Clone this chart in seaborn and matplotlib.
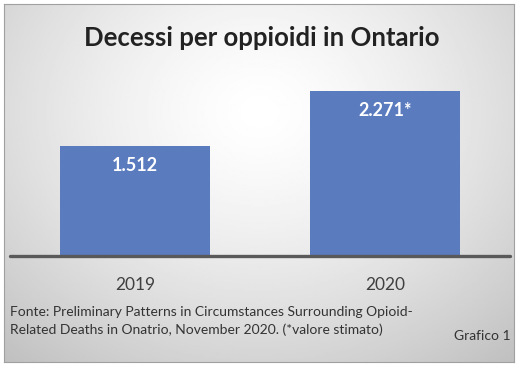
import numpy as np
import pandas as pd
import seaborn as sns
import matplotlib.pyplot as plt

anni = ["2019", "2020"]
decessi = [1512, 2271]
etichette = ["1.512", "2.271*"]

sns.set_style("white")
plt.rcParams['font.family'] = ['Lato', 'DejaVu Sans']

fig = plt.figure(figsize=(5.24, 3.74), dpi=100)

# sfondo con sfumatura radiale
bg = fig.add_axes([4/524, 12/374, 510/524, 358/374], zorder=0)
yy, xx = np.mgrid[0:1:200j, 0:1:300j]
d = np.sqrt(((xx - 0.5) / 0.75) ** 2 + ((yy - 0.3) / 0.9) ** 2)
shade = 1 - 0.24 * np.clip(d, 0, 1.2) ** 1.4
bg.imshow(shade, cmap="gray", vmin=0, vmax=1, aspect="auto",
          extent=[0, 1, 1, 0], interpolation="bilinear")
bg.set_xticks([]); bg.set_yticks([])
for s in bg.spines.values():
    s.set_color("#a0a0a0")
    s.set_linewidth(0.8)

ax = fig.add_axes([10/524, 118/374, 500/524, 196/374], zorder=1)
ax.patch.set_alpha(0)
df = pd.DataFrame({"anno": anni, "decessi": decessi})
sns.barplot(data=df, x="anno", y="decessi", color="#5B7BBF", saturation=1,
            width=0.6, linewidth=0, ax=ax)
ax.set_xlim(-0.5, 1.5)
ax.set_ylim(0, 2700)
ax.axhline(0, color="#595959", lw=2.4, zorder=5, clip_on=False)
for i, (v, t) in enumerate(zip(decessi, etichette)):
    ax.text(i, v - 270, t, ha="center", va="center", color="white",
            fontsize=13, fontweight="bold")
ax.set_yticks([])
ax.set_xlabel("")
ax.set_ylabel("")
ax.tick_params(axis="x", length=0, pad=15, labelsize=12.5, labelcolor="#404040")
sns.despine(ax=ax, left=True, bottom=True)

fig.text(0.5, 1 - 38/374, "Decessi per oppioidi in Ontario", ha="center",
         va="center", fontsize=18.5, fontweight="bold", color="#222222")
fig.text(10/524, 1 - 321/374,
         "Fonte: Preliminary Patterns in Circumstances Surrounding Opioid-\n"
         "Related Deaths in Onatrio, November 2020. (*valore stimato)",
         ha="left", va="center", fontsize=10, color="#333333",
         linespacing=1.45)
fig.text(511/524, 1 - 336/374, "Grafico 1", ha="right", va="center",
         fontsize=10, color="#333333")

fig.savefig("out.png", dpi=100)
